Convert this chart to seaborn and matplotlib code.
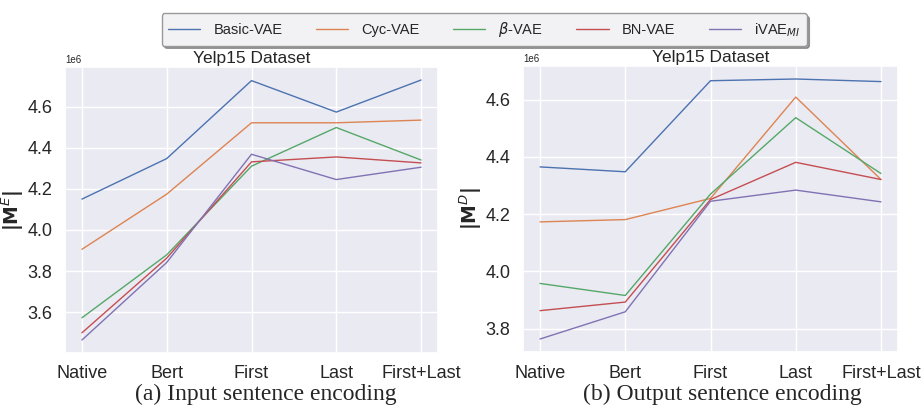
import pandas as pd
import matplotlib.pyplot as plt
import seaborn as sns

sns.set_theme(style="darkgrid")
plt.rcParams['font.family'] = ['Liberation Sans', 'DejaVu Sans']
plt.rcParams['mathtext.fontset'] = 'dejavusans'

# Dados (valores em milhões)
categorias = ['Native', 'Bert', 'First', 'Last', 'First+Last']
modelos = ['Basic-VAE', 'Cyc-VAE', r'$\beta$-VAE', 'BN-VAE', r'iVAE$_{MI}$']

entrada_basic = [4.150, 4.347, 4.726, 4.573, 4.729]
entrada_cyc = [3.906, 4.174, 4.521, 4.521, 4.534]
entrada_beta = [3.573, 3.879, 4.310, 4.498, 4.340]
entrada_bn = [3.500, 3.863, 4.331, 4.355, 4.326]
entrada_ivae = [3.465, 3.842, 4.368, 4.245, 4.305]

saida_basic = [4.365, 4.348, 4.666, 4.672, 4.663]
saida_cyc = [4.173, 4.181, 4.255, 4.609, 4.321]
saida_beta = [3.958, 3.916, 4.270, 4.537, 4.342]
saida_bn = [3.863, 3.893, 4.251, 4.381, 4.321]
saida_ivae = [3.764, 3.859, 4.245, 4.284, 4.243]

entrada = [entrada_basic, entrada_cyc, entrada_beta, entrada_bn, entrada_ivae]
saida = [saida_basic, saida_cyc, saida_beta, saida_bn, saida_ivae]


def monta_df(series):
    linhas = []
    for modelo, valores in zip(modelos, series):
        for cat, v in zip(categorias, valores):
            linhas.append([modelo, cat, v * 1e6])
    return pd.DataFrame(linhas, columns=['modelo', 'camada', 'valor'])


fig = plt.figure(figsize=(9.22, 4.07), dpi=100)
ax1 = fig.add_axes([65 / 922, 1 - 353 / 407, 373 / 922, 286 / 407])
ax2 = fig.add_axes([523 / 922, 1 - 352 / 407, 375 / 922, 286 / 407])

paleta = sns.color_palette('deep', 5)

for ax, series, ylabel in [(ax1, entrada, r'$\mathbf{|M}^{E}\mathbf{|}$'),
                           (ax2, saida, r'$\mathbf{|M}^{D}\mathbf{|}$')]:
    df = monta_df(series)
    sns.lineplot(data=df, x='camada', y='valor', hue='modelo', palette=paleta,
                 sort=False, linewidth=1.0, ax=ax, legend=True)
    ax.set_title('Yelp15 Dataset', fontsize=12.5, pad=3)
    ax.set_xlabel('')
    ax.set_ylabel(ylabel, fontsize=13.5, labelpad=1)
    ax.tick_params(axis='both', labelsize=13, pad=3)
    ax.yaxis.get_offset_text().set_fontsize(7)

handles, labels = ax1.get_legend_handles_labels()
ax1.get_legend().remove()
ax2.get_legend().remove()

fig.legend(handles, labels, loc='upper center', bbox_to_anchor=(0.525, 0.985),
           ncol=5, fontsize=10.5, frameon=True, shadow=True, fancybox=True,
           edgecolor='#999999', facecolor='#f2f2f4', framealpha=1,
           handlelength=2.2, handletextpad=0.9, columnspacing=2.3,
           borderpad=0.45)

# Legendas das figuras
fig.text(266 / 922, 0.03, '(a) Input sentence encoding', ha='center',
         va='center', fontsize=17, family=['Liberation Serif'])
fig.text(722 / 922, 0.03, '(b) Output sentence encoding', ha='center',
         va='center', fontsize=17, family=['Liberation Serif'])

plt.savefig('out.png', dpi=100)
